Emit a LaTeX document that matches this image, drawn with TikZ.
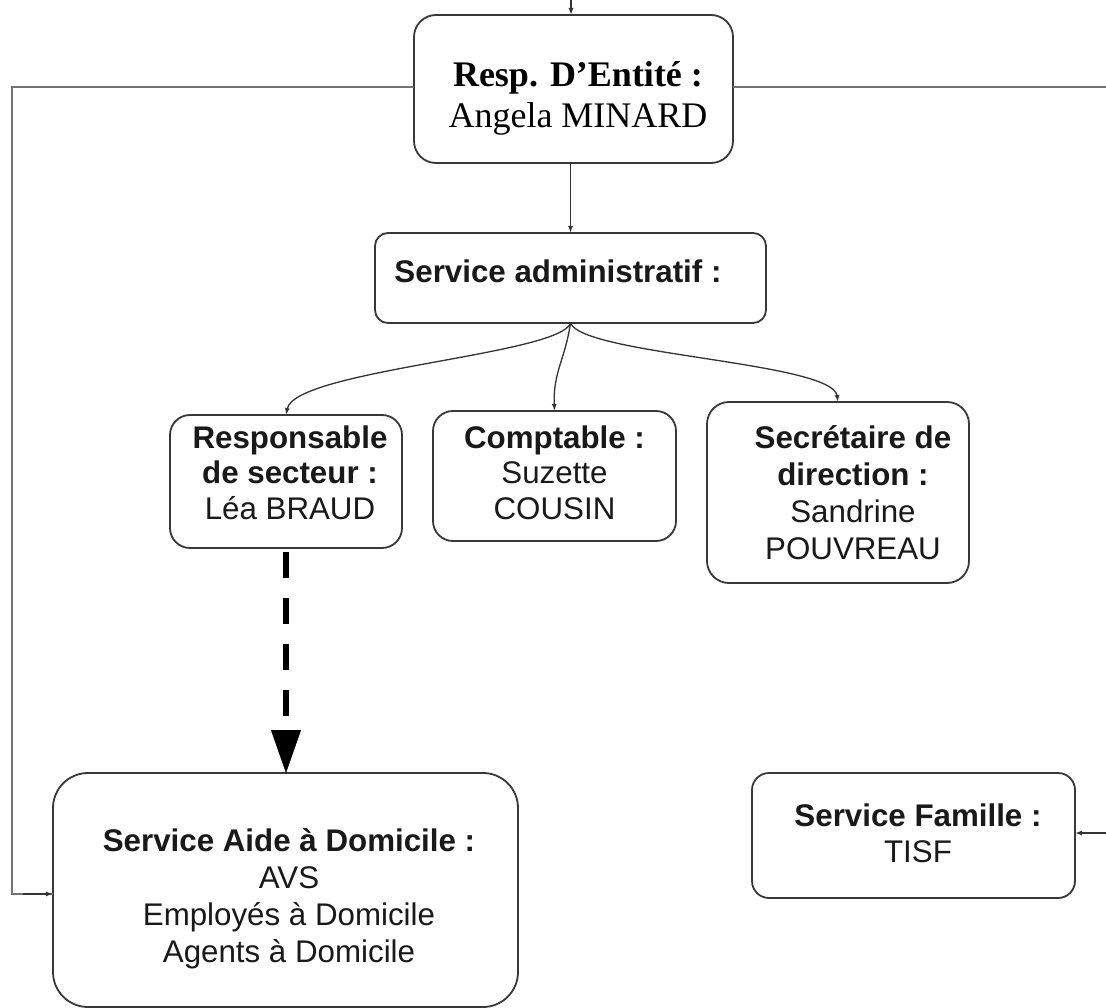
\documentclass[tikz,border=0pt]{standalone}
\usepackage{fontspec}
\setmainfont{Liberation Serif}
\setsansfont{Liberation Sans}
\usetikzlibrary{arrows.meta}
\begin{document}
\begin{tikzpicture}[x=1pt,y=-1pt,
  box/.style={draw=black!78, line width=1.8pt, rounded corners=#1, inner sep=0pt, outer sep=0pt, fill=white},
  box/.default=20pt,
  stxt/.style={inner sep=0pt, align=center, text=black!90, font=\sffamily\fontsize{31.3pt}{#1}\selectfont},
  stxt/.default=36.5pt,
  rtxt/.style={inner sep=0pt, align=center, text=black, font=\rmfamily\fontsize{36pt}{41pt}\selectfont},
  conn/.style={draw=black!80, line width=1.3pt, -{Latex[length=7pt,width=5pt]}},
  outer/.style={draw=black!55, line width=2.2pt},
  dasharrow/.style={draw=black, line width=6.5pt, dash pattern=on 26pt off 20pt, dash phase=42pt,
    -{Triangle[length=43pt,width=30pt,line width=0.4pt]}}
]
\useasboundingbox (0,0) rectangle (1106,1008);
\fill[white] (0,0) rectangle (1106,1008);

% boxes
\node[box=22pt, minimum width=319pt, minimum height=148pt] (top) at (573.5,89) {};
\node[box=13pt, minimum width=391pt, minimum height=90pt]  (admin) at (570.5,278) {};
\node[box=20pt, minimum width=232pt, minimum height=133pt] (resp) at (286,481.5) {};
\node[box=20pt, minimum width=243pt, minimum height=130pt] (compt) at (554.5,476) {};
\node[box=22pt, minimum width=262pt, minimum height=181pt] (secr) at (838,492.5) {};
\node[box=35pt, minimum width=465pt, minimum height=234pt] (aide) at (285.5,890) {};
\node[box=17pt, minimum width=323pt, minimum height=125pt] (fam) at (913.5,835.5) {};

% texts
\node[rtxt] (topT) at (578,99.3) {\strut\textbf{Resp. D’Entité :}\\Angela MINARD\strut};
\node[stxt] (adminT) at (558,275.7) {\strut\textbf{Service administratif :}\strut};
\node[stxt=35.7pt] (respT) at (290,476.6) {\strut\textbf{Responsable}\\\textbf{de secteur :}\\Léa BRAUD\strut};
\node[stxt=35.7pt] (comptT) at (554.5,476.6) {\strut\textbf{Comptable :}\\Suzette\\COUSIN\strut};
\node[stxt=36.7pt] (secrT) at (853,496.7) {\strut\textbf{Secrétaire de}\\\textbf{direction :}\\Sandrine\\POUVREAU\strut};
\node[stxt=37.3pt] (aideT) at (289,899.5) {\strut\textbf{Service Aide à Domicile :}\\AVS\\Employés à Domicile\\Agents à Domicile\strut};
\node[stxt] (famT) at (918,837) {\strut\textbf{Service Famille :}\\TISF\strut};

% free ends
\coordinate (topin) at (571,0);
\coordinate (redge) at (1106,87);
\coordinate (fedge) at (1106,833);

% connectors
\draw[conn] (topin) -- (topin |- top.north);
\draw[conn] (top.south -| admin.north) -- (admin.north);
\draw[conn] (admin.south) .. controls (560,355) and (295,370) .. (resp.north);
\draw[conn] (admin.south) .. controls (565,360) and (553,372) .. (compt.north);
\draw[conn] (admin.south) .. controls (583,355) and (832,362) .. (secr.north);
\draw[dasharrow] (resp.south) -- (resp.south |- aide.north);
\draw[outer] ([yshift=2pt]top.west) -- ++(-402,0) |- ([yshift=-4pt]aide.west);
\draw[conn] ([yshift=-4pt]aide.west) ++(-30,0) -- ([yshift=-4pt]aide.west);
\draw[outer] ([yshift=2pt]top.east) -- (redge);
\draw[conn] (fedge) -- (fedge -| fam.east);
\end{tikzpicture}
\end{document}
